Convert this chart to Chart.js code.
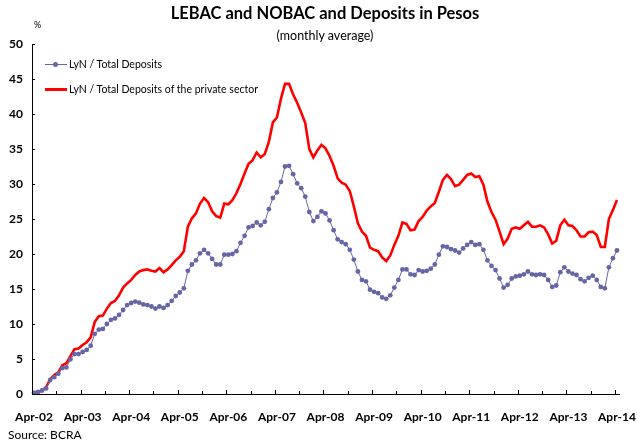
<!DOCTYPE html>
<html>
<head>
<meta charset="utf-8">
<script src="https://cdn.jsdelivr.net/npm/chart.js@4.4.1/dist/chart.umd.min.js"></script>
<style>
  html, body { margin: 0; padding: 0; background: #fff; }
  #wrap { position: relative; width: 637px; height: 445px; font-family: Lato, "DejaVu Sans", sans-serif; color: #000; }
  #wrap canvas { position: absolute; left: 0; top: 0; }
  .txt { position: absolute; white-space: nowrap; }
  .title { left: 0; width: 650px; top: 3px; text-align: center; font-weight: bold; font-size: 16.5px; line-height: 20px; }
  .sub { left: 0; width: 650px; top: 28px; text-align: center; font-size: 12.5px; line-height: 15px; }
  .pct { left: 34px; top: 19px; font-size: 9px; line-height: 12px; }
  .leg { left: 45px; font-size: 10.5px; line-height: 14px; }
  .leg .sample { display: inline-block; position: relative; width: 22px; height: 14px; vertical-align: top; margin-right: 2px; }
  .leg .sample i { position: absolute; left: 0; right: 0; }
  .leg .sample b { position: absolute; left: 8px; top: 4.5px; width: 5px; height: 5px; border-radius: 50%; background: #6666a6; }
  .src { left: 8px; top: 427px; font-size: 12px; line-height: 15px; }
</style>
</head>
<body>
<div id="wrap">
  <canvas id="myChart" width="637" height="445"></canvas>
  <div class="txt title">LEBAC and NOBAC and Deposits in Pesos</div>
  <div class="txt sub">(monthly average)</div>
  <div class="txt pct">%</div>
  <div class="txt leg" style="top:57px"><span class="sample"><i style="top:6.5px;height:1px;background:#6666a6"></i><b></b></span>LyN / Total Deposits</div>
  <div class="txt leg" style="top:82px"><span class="sample"><i style="top:5.5px;height:3px;background:#ff0000"></i></span>LyN / Total Deposits of the private sector</div>
  <div class="txt src">Source: BCRA</div>
</div>
<script>
// monthly data, Apr-02 .. Apr-14
const monthNames = ["Jan", "Feb", "Mar", "Apr", "May", "Jun", "Jul", "Aug", "Sep", "Oct", "Nov", "Dec"];
const categories = [];
for (let i = 0; i < 145; i++) {
  const m = (3 + i) % 12;
  const yr = 2 + Math.floor((3 + i) / 12);
  categories.push(monthNames[m] + "-" + String(yr).padStart(2, "0"));
}

const totalDeposits = [
  0.2, 0.3, 0.5, 0.8, 2.0, 2.4, 2.9, 3.7, 3.8, 4.95, 5.7, 5.7,
  6.0, 6.3, 6.9, 8.6, 9.2, 9.3, 10.0, 10.6, 10.8, 11.3, 12.0, 12.7,
  13.0, 13.2, 13.05, 12.8, 12.7, 12.5, 12.2, 12.5, 12.3, 12.7, 13.3, 14.0,
  14.5, 15.1, 17.6, 18.5, 19.1, 20.1, 20.6, 20.1, 19.3, 18.5, 18.5, 19.9,
  19.9, 20.0, 20.4, 21.6, 22.6, 23.8, 24.0, 24.5, 24.1, 24.6, 26.4, 28.0,
  28.8, 30.3, 32.5, 32.6, 31.4, 30.1, 29.4, 28.2, 26.0, 24.7, 25.3, 26.1,
  25.8, 24.8, 23.4, 22.1, 21.7, 21.4, 20.6, 19.2, 17.5, 16.3, 16.1, 14.9,
  14.6, 14.4, 13.8, 13.6, 14.1, 15.2, 16.3, 17.8, 17.8, 17.1, 17.0, 17.7,
  17.5, 17.6, 17.9, 18.5, 19.9, 21.1, 21.0, 20.7, 20.5, 20.2, 20.8, 21.3,
  21.7, 21.3, 21.4, 20.6, 19.1, 18.3, 17.7, 16.5, 15.2, 15.6, 16.5, 16.8,
  16.9, 17.1, 17.5, 17.1, 17.0, 17.1, 17.0, 16.3, 15.3, 15.5, 17.4, 18.1,
  17.5, 17.2, 17.0, 16.4, 16.1, 16.6, 16.9, 16.3, 15.3, 15.1, 18.1, 19.4,
  20.5
];

const privateDeposits = [
  0.1, 0.3, 0.5, 1.0, 2.1, 2.7, 3.1, 4.1, 4.4, 5.4, 6.4, 6.5,
  7.0, 7.4, 8.1, 10.3, 11.1, 11.2, 12.2, 13.0, 13.3, 14.1, 15.2, 15.8,
  16.3, 17.0, 17.5, 17.7, 17.8, 17.6, 17.5, 18.0, 17.4, 17.8, 18.4, 19.1,
  19.6, 20.4, 23.9, 25.1, 25.8, 27.2, 28.0, 27.4, 26.1, 25.4, 25.2, 27.2,
  27.1, 27.7, 28.7, 30.0, 31.5, 32.9, 33.4, 34.5, 33.8, 34.3, 36.0, 38.8,
  39.5, 42.2, 44.3, 44.3, 42.8, 41.6, 40.2, 38.7, 35.0, 33.8, 34.8, 35.6,
  35.1, 34.0, 32.6, 30.8, 30.2, 29.9, 29.0, 26.8, 24.4, 23.2, 22.6, 20.9,
  20.6, 20.4, 19.5, 19.0, 19.8, 21.3, 22.6, 24.5, 24.3, 23.4, 23.5, 24.7,
  25.3, 26.2, 26.8, 27.3, 28.9, 30.6, 31.3, 30.7, 29.7, 29.9, 30.6, 31.3,
  31.5, 31.0, 31.1, 29.9, 27.5, 26.0, 24.9, 23.2, 21.4, 22.2, 23.6, 23.8,
  23.6, 24.1, 24.6, 23.9, 23.9, 24.1, 23.8, 22.8, 21.5, 21.9, 24.1, 24.9,
  24.1, 24.0, 23.4, 22.5, 22.5, 23.1, 23.2, 22.7, 21.0, 21.0, 25.0, 26.3,
  27.7
];

const blue = "#6666a6";
const red = "#ff0000";
const axisFont = { family: "Lato, 'DejaVu Sans', sans-serif", size: 12, weight: "bold" };

// small tick marks pointing into the plot, like the original
const inwardTicks = {
  id: "inwardTicks",
  afterDatasetsDraw(chart) {
    const { ctx, scales: { x, y } } = chart;
    const step = x.getPixelForValue(1) - x.getPixelForValue(0);
    ctx.save();
    ctx.strokeStyle = "#000";
    ctx.lineWidth = 1;
    ctx.beginPath();
    for (let i = 0; i < categories.length; i += 6) {
      const px = Math.round(x.getPixelForValue(i) - step / 2) + 0.5;
      const len = i % 12 === 0 ? 4 : 3;
      ctx.moveTo(px, x.top);
      ctx.lineTo(px, x.top - len);
    }
    y.ticks.forEach((t) => {
      const py = Math.round(y.getPixelForValue(t.value)) + 0.5;
      ctx.moveTo(y.right, py);
      ctx.lineTo(y.right + 3, py);
    });
    ctx.stroke();
    ctx.restore();
  },
};

const ctx = document.getElementById("myChart");
const myChart = new Chart(ctx, {
  type: "line",
  data: {
    labels: categories,
    datasets: [
      {
        label: "LyN / Total Deposits",
        data: totalDeposits,
        borderColor: blue,
        backgroundColor: blue,
        borderWidth: 1,
        pointRadius: 2.4,
        pointBorderWidth: 0,
        pointBackgroundColor: blue,
        tension: 0,
      },
      {
        label: "LyN / Total Deposits of the private sector",
        data: privateDeposits,
        borderColor: red,
        backgroundColor: red,
        borderWidth: 2.6,
        pointRadius: 0,
        tension: 0,
      },
    ],
  },
  options: {
    responsive: false,
    animation: false,
    events: [],
    layout: { padding: { top: 44, right: 18, bottom: 0, left: 0 } },
    plugins: {
      legend: { display: false },
      title: { display: false },
      tooltip: { enabled: false },
    },
    scales: {
      x: {
        offset: true,
        grid: { display: true, offset: true, drawOnChartArea: false, drawTicks: true, tickLength: 15, color: "transparent", tickColor: "transparent" },
        border: { display: true, color: "#000", width: 1 },
        ticks: {
          autoSkip: false,
          maxRotation: 0,
          minRotation: 0,
          padding: 1,
          color: "#000",
          font: axisFont,
          callback: function (val, idx) {
            return idx % 12 === 0 ? categories[idx] : "";
          },
        },
        afterFit: (scale) => { scale.height = 51; },
      },
      y: {
        min: 0,
        max: 50,
        grid: { display: true, drawOnChartArea: false, drawTicks: true, tickLength: 9, color: "transparent", tickColor: "transparent" },
        border: { display: true, color: "#000", width: 1 },
        ticks: { stepSize: 5, padding: 0, color: "#000", font: axisFont },
        afterFit: (scale) => { scale.width = 32; },
      },
    },
  },
  plugins: [inwardTicks],
});
</script>
</body>
</html>
